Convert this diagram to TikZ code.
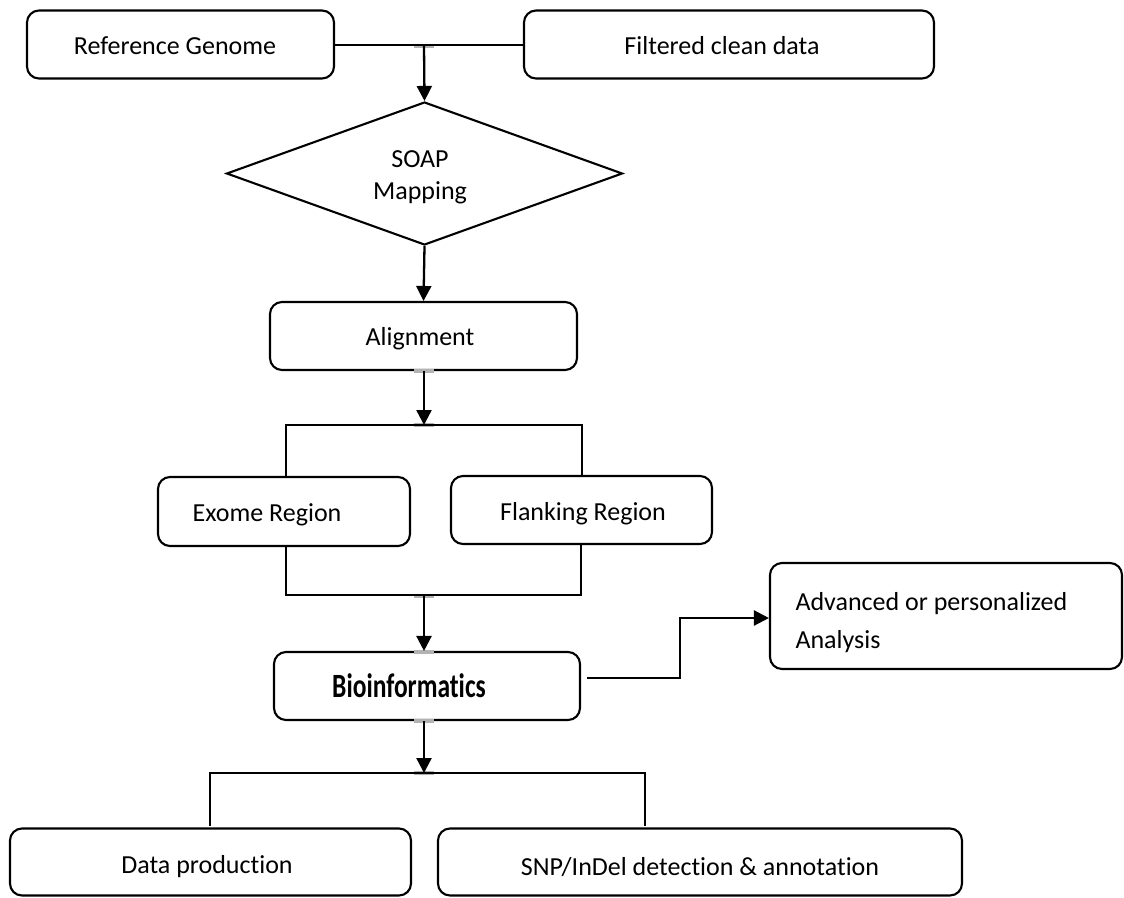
\documentclass[tikz,border=0pt]{standalone}
\usepackage{fontspec}
\setmainfont{Carlito}[RawFeature={-liga}]
\usetikzlibrary{shapes.geometric,arrows.meta}
\begin{document}
\begin{tikzpicture}[x=1pt,y=-1pt,
  box/.style={draw, line width=2.1pt, rounded corners=12pt, inner sep=0pt, font=\fontsize{26}{32}\selectfont},
  lbl/.style={font=\fontsize{26}{32}\selectfont},
  conn/.style={line width=2.3pt},
  arr/.style={conn, -{Triangle[length=15pt,width=15pt]}},
  tick/.style={draw=gray!60, line width=3.5pt}
]
\useasboundingbox (0,0) rectangle (1124,897);
\fill[white] (0,0) rectangle (1124,897);

% nodes
\node[box, minimum width=307pt, minimum height=68pt] (ref) at (180.5,44.5) {};
\node[lbl] (reft) at (175,46) {Reference Genome};
\node[box, minimum width=410pt, minimum height=68pt] (filt) at (729,44.5) {};
\node[lbl] (filtt) at (722,46) {Filtered clean data};

\node[diamond, draw, line width=2.1pt, aspect=2.75, minimum width=396pt, minimum height=143pt, inner sep=0pt] (soap) at (424.5,173.5) {};
\node[lbl, align=center] (soapt) at (420,177) {SOAP\\Mapping};

\node[box, minimum width=307pt, minimum height=68pt] (align) at (423.5,336) {};
\node[lbl] (alignt) at (420,339) {Alignment};

\node[box, minimum width=252pt, minimum height=69pt] (exome) at (284,511.5) {};
\node[lbl] (exomet) at (267,515) {Exome Region};
\node[box, minimum width=261pt, minimum height=68pt] (flank) at (581.5,510) {};
\node[lbl] (flankt) at (583,514) {Flanking Region};

\node[box, minimum width=306pt, minimum height=68pt] (bio) at (427,686) {};
\node (biot) at (409,686) {\scalebox{0.75}[1]{\fontsize{34}{34}\selectfont\bfseries Bioinformatics}};

\node[box, minimum width=352pt, minimum height=106pt] (adv) at (946,616) {};
\node[font=\fontsize{26}{38}\selectfont, align=left, anchor=west] (advt) at (792,623) {Advanced or personalized\\Analysis};

\node[box, minimum width=401pt, minimum height=67pt] (data) at (210.5,862) {};
\node[lbl] (datat) at (207,867) {Data production};
\node[box, minimum width=524pt, minimum height=67pt] (snp) at (700,862) {};
\node[lbl] (snpt) at (700,867) {SNP/InDel detection \& annotation};

% junction coordinates
\coordinate (j1) at (424,45);
\coordinate (j2) at (424,425);
\coordinate (j3) at (424,596);
\coordinate (j4) at (424,773);
\coordinate (bo) at (587,678);
\coordinate (bk) at (680,618);

% gray ticks
\foreach \yy in {46,371,425,596,652,721,773}
  \draw[tick] (414,\yy) -- (434,\yy);

% connectors
\draw[conn] (ref.east |- j1) -- (filt.west |- j1);
\draw[arr] (j1) -- (soap.north);
\draw[arr] (soap.south) -- (align.north);
\draw[arr] (align.south -| j2) -- (j2);
\draw[conn] (286,476.5) -- (286,425) -- (582,425) -- (582,475.5);
\draw[conn] (286,546.5) -- (286,595) -- (581,595) -- (581,544.5);
\draw[arr] (j3) -- (bio.north -| j3);
\draw[arr] (bo) -- (bo -| bk) -- (bk) -- (adv.west |- bk);
\draw[arr] (bio.south -| j4) -- (j4);
\draw[conn] (210,826) -- (210,773) -- (645,773) -- (645,826);
\end{tikzpicture}
\end{document}
